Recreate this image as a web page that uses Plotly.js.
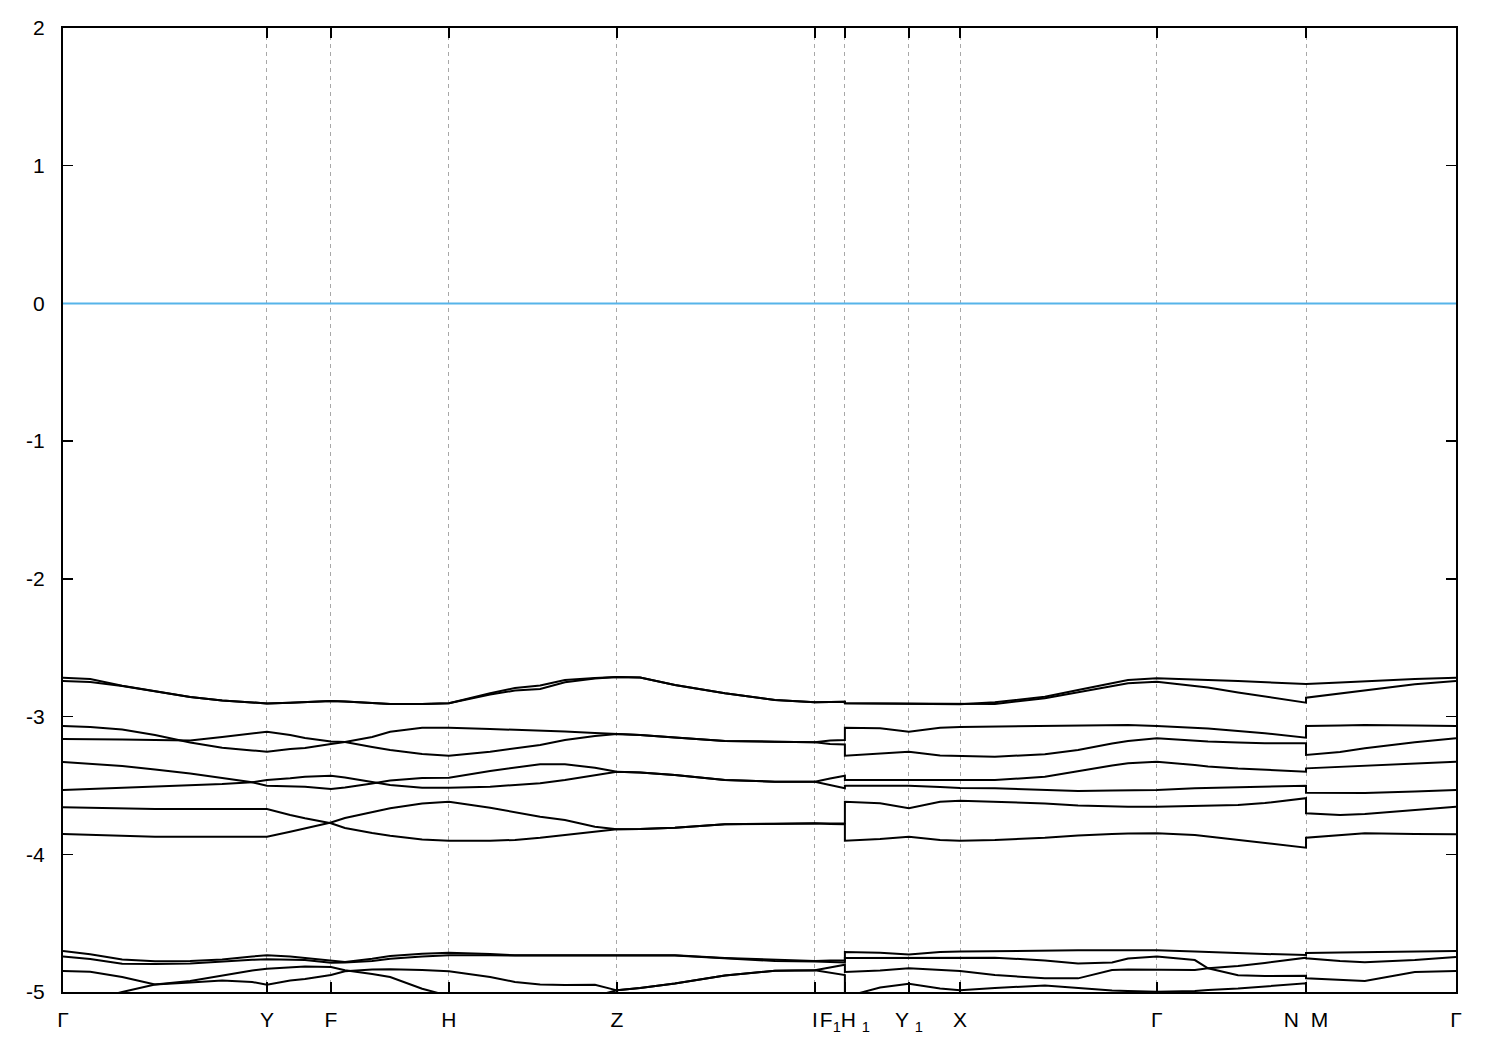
<!DOCTYPE html>
<html>
<head>
<meta charset="utf-8">
<script src="https://cdn.plot.ly/plotly-3.0.1.min.js"></script>
<style>html,body{margin:0;padding:0;background:#fff;}#chart{width:1500px;height:1050px;}</style>
</head>
<body>
<div id="chart"></div>
<script>
// k-path coordinates (shared by all bands); repeated values mark the path breaks F1|H1 and N|M
const kPath = [0, 0.068, 0.148, 0.23, 0.318, 0.398, 0.473, 0.51, 0.568, 0.605,
  0.67, 0.705, 0.773, 0.818, 0.898, 0.965, 1.068, 1.13, 1.193, 1.255,
  1.33, 1.385, 1.443, 1.53, 1.655, 1.78, 1.88, 1.918, 1.955, 1.955,
  2.043, 2.115, 2.193, 2.243, 2.33, 2.455, 2.538, 2.623, 2.663, 2.735,
  2.83, 2.863, 2.938, 3.005, 3.108, 3.108, 3.193, 3.255, 3.38, 3.483];

// high-symmetry points
const symK = [0, 0.51, 0.67, 0.965, 1.385, 1.88, 1.955, 2.115, 2.243, 2.735, 3.108, 3.483];
const symLabels = ['Γ', 'Y', 'F', 'H', 'Z', 'I', 'F<sub>1</sub>H\u00a0<sub>1</sub>', 'Y\u00a0<sub>1</sub>', 'X', 'Γ', 'N\u00a0\u00a0M', 'Γ'];

// energy ticks
const eTicks = [-5, -4, -3, -2, -1, 0, 1, 2];
const eTickText = ['-5', '-4', '-3', '-2', '-1', '0', '1', '2'];
const fermiLevel = 0;

// bands (eV)
const band1 = [-2.718,-2.727,-2.776,-2.814,-2.858,-2.883,-2.898,-2.905,-2.899,-2.894,
  -2.887,-2.890,-2.901,-2.909,-2.909,-2.903,-2.831,-2.792,-2.774,-2.734,
  -2.720,-2.712,-2.716,-2.771,-2.831,-2.880,-2.896,-2.894,-2.892,-2.903,
  -2.905,-2.909,-2.911,-2.911,-2.896,-2.856,-2.807,-2.756,-2.734,-2.722,
  -2.734,-2.734,-2.742,-2.751,-2.763,-2.763,-2.752,-2.742,-2.727,-2.718];
const band2 = [-2.742,-2.749,-2.778,-2.818,-2.858,-2.883,-2.898,-2.905,-2.899,-2.894,
  -2.887,-2.890,-2.901,-2.909,-2.909,-2.903,-2.840,-2.811,-2.800,-2.751,
  -2.723,-2.712,-2.716,-2.771,-2.831,-2.880,-2.896,-2.894,-2.892,-2.903,
  -2.905,-2.909,-2.911,-2.911,-2.909,-2.867,-2.825,-2.778,-2.758,-2.747,
  -2.776,-2.789,-2.825,-2.856,-2.899,-2.863,-2.832,-2.807,-2.766,-2.742];
const band3 = [-3.068,-3.076,-3.094,-3.134,-3.188,-3.226,-3.246,-3.255,-3.235,-3.228,
  -3.199,-3.185,-3.148,-3.110,-3.081,-3.081,-3.090,-3.095,-3.101,-3.108,
  -3.119,-3.126,-3.134,-3.152,-3.177,-3.182,-3.187,-3.174,-3.170,-3.081,
  -3.085,-3.110,-3.081,-3.076,-3.073,-3.066,-3.061,-3.061,-3.061,-3.068,
  -3.081,-3.087,-3.105,-3.121,-3.153,-3.068,-3.065,-3.061,-3.065,-3.068];
const band4 = [-3.163,-3.163,-3.166,-3.170,-3.174,-3.148,-3.123,-3.110,-3.134,-3.156,
  -3.181,-3.185,-3.221,-3.243,-3.272,-3.284,-3.255,-3.232,-3.206,-3.170,
  -3.141,-3.126,-3.134,-3.152,-3.177,-3.182,-3.187,-3.199,-3.203,-3.284,
  -3.268,-3.255,-3.283,-3.286,-3.291,-3.274,-3.243,-3.195,-3.177,-3.158,
  -3.177,-3.181,-3.188,-3.194,-3.194,-3.279,-3.257,-3.230,-3.187,-3.158];
const band5 = [-3.330,-3.341,-3.359,-3.384,-3.413,-3.446,-3.477,-3.502,-3.504,-3.509,
  -3.526,-3.515,-3.486,-3.464,-3.446,-3.444,-3.395,-3.370,-3.346,-3.346,
  -3.371,-3.400,-3.406,-3.424,-3.461,-3.473,-3.473,-3.450,-3.429,-3.461,
  -3.461,-3.461,-3.461,-3.461,-3.461,-3.437,-3.395,-3.355,-3.339,-3.328,
  -3.352,-3.362,-3.377,-3.386,-3.400,-3.376,-3.366,-3.357,-3.341,-3.328];
const band6 = [-3.533,-3.526,-3.514,-3.504,-3.497,-3.490,-3.477,-3.461,-3.448,-3.437,
  -3.429,-3.442,-3.475,-3.497,-3.516,-3.516,-3.509,-3.497,-3.485,-3.461,
  -3.424,-3.400,-3.406,-3.424,-3.461,-3.473,-3.473,-3.497,-3.521,-3.502,
  -3.502,-3.502,-3.511,-3.519,-3.521,-3.533,-3.540,-3.537,-3.535,-3.533,
  -3.521,-3.519,-3.511,-3.508,-3.502,-3.553,-3.555,-3.555,-3.544,-3.533];
const band7 = [-3.659,-3.664,-3.667,-3.671,-3.671,-3.671,-3.671,-3.671,-3.715,-3.739,
  -3.775,-3.809,-3.845,-3.865,-3.893,-3.901,-3.901,-3.896,-3.880,-3.860,
  -3.834,-3.818,-3.816,-3.807,-3.782,-3.778,-3.775,-3.776,-3.775,-3.618,
  -3.630,-3.666,-3.618,-3.611,-3.618,-3.631,-3.646,-3.654,-3.654,-3.654,
  -3.649,-3.646,-3.642,-3.628,-3.593,-3.702,-3.715,-3.707,-3.678,-3.654];
const band8 = [-3.853,-3.860,-3.867,-3.872,-3.872,-3.872,-3.872,-3.872,-3.836,-3.811,
  -3.769,-3.736,-3.693,-3.666,-3.631,-3.618,-3.662,-3.693,-3.727,-3.751,
  -3.800,-3.818,-3.816,-3.807,-3.782,-3.778,-3.775,-3.780,-3.782,-3.901,
  -3.889,-3.872,-3.896,-3.901,-3.896,-3.880,-3.863,-3.853,-3.849,-3.848,
  -3.860,-3.871,-3.896,-3.914,-3.952,-3.880,-3.863,-3.848,-3.853,-3.855];
const band9 = [-4.702,-4.726,-4.764,-4.777,-4.775,-4.764,-4.742,-4.734,-4.742,-4.753,
  -4.777,-4.782,-4.758,-4.739,-4.722,-4.715,-4.724,-4.734,-4.734,-4.734,
  -4.734,-4.734,-4.734,-4.734,-4.753,-4.768,-4.775,-4.771,-4.771,-4.710,
  -4.715,-4.728,-4.710,-4.706,-4.702,-4.698,-4.697,-4.697,-4.697,-4.697,
  -4.706,-4.710,-4.717,-4.724,-4.731,-4.717,-4.713,-4.710,-4.706,-4.702];
const band10 = [-4.742,-4.760,-4.795,-4.797,-4.793,-4.777,-4.766,-4.763,-4.764,-4.768,
  -4.787,-4.786,-4.775,-4.758,-4.742,-4.734,-4.734,-4.735,-4.735,-4.735,
  -4.735,-4.735,-4.735,-4.735,-4.757,-4.775,-4.779,-4.782,-4.786,-4.753,
  -4.753,-4.753,-4.753,-4.750,-4.751,-4.771,-4.793,-4.786,-4.757,-4.742,
  -4.768,-4.828,-4.879,-4.884,-4.882,-4.901,-4.913,-4.920,-4.855,-4.848];
const band11 = [-4.848,-4.853,-4.891,-4.946,-4.931,-4.917,-4.927,-4.947,-4.917,-4.906,
  -4.877,-4.850,-4.837,-4.835,-4.840,-4.850,-4.891,-4.927,-4.946,-4.949,
  -4.947,-4.988,-4.971,-4.938,-4.880,-4.845,-4.842,-4.822,-4.802,-4.855,
  -4.844,-4.828,-4.840,-4.848,-4.877,-4.901,-4.901,-4.840,-4.837,-4.840,
  -4.840,-4.828,-4.811,-4.789,-4.751,-4.755,-4.775,-4.784,-4.768,-4.746];
const band12 = [-5.100,-5.058,-5.000,-4.946,-4.920,-4.879,-4.844,-4.831,-4.819,-4.815,
  -4.819,-4.842,-4.869,-4.891,-4.976,-5.029,-5.058,-5.073,-5.073,-5.058,
  -5.029,-4.988,-4.971,-4.938,-4.880,-4.845,-4.842,-4.858,-4.877,-5.036,
  -4.967,-4.940,-4.975,-4.988,-4.971,-4.953,-4.973,-4.989,-4.993,-4.998,
  -4.993,-4.985,-4.975,-4.960,-4.937,-5.036,-5.058,-5.073,-5.087,-5.100];

const bands = [band1, band2, band3, band4, band5, band6, band7, band8,
               band9, band10, band11, band12];

const FONT = 'Liberation Sans, Arial, Helvetica, sans-serif';

const traces = bands.map(function (b) {
  return {
    x: kPath, y: b, type: 'scatter', mode: 'lines',
    line: {color: '#000000', width: 2},
    hoverinfo: 'skip', showlegend: false
  };
});

const layout = {
  width: 1500, height: 1050,
  margin: {l: 63, r: 44, t: 28, b: 58, pad: 0},
  paper_bgcolor: '#ffffff', plot_bgcolor: '#ffffff',
  showlegend: false,
  font: {family: FONT, size: 21, color: '#000000'},
  xaxis: {
    range: [symK[0], symK[symK.length - 1]],
    tickmode: 'array', tickvals: symK, ticktext: symLabels, tickangle: 0,
    ticks: 'inside', ticklen: 10, tickwidth: 1.5, tickcolor: '#000000',
    showgrid: true, gridcolor: '#a8a8a8', gridwidth: 1, griddash: '4px,4px',
    showline: true, linecolor: '#000000', linewidth: 2, mirror: 'ticks',
    zeroline: false, ticklabelstandoff: 8,
    tickfont: {family: FONT, size: 21, color: '#000000'}
  },
  yaxis: {
    range: [-5, 2],
    tickmode: 'array', tickvals: eTicks, ticktext: eTickText,
    ticks: 'inside', ticklen: 10, tickwidth: 1.5, tickcolor: '#000000',
    showgrid: false, zeroline: false,
    showline: true, linecolor: '#000000', linewidth: 2, mirror: 'ticks',
    ticklabelstandoff: 12,
    tickfont: {family: FONT, size: 21, color: '#000000'}
  },
  shapes: [{
    type: 'line', xref: 'paper', yref: 'y', x0: 0, x1: 1, y0: fermiLevel, y1: fermiLevel,
    line: {color: '#56b4e9', width: 2}, layer: 'above'
  }]
};

Plotly.newPlot('chart', traces, layout, {displayModeBar: false, staticPlot: true});
</script>
</body>
</html>
